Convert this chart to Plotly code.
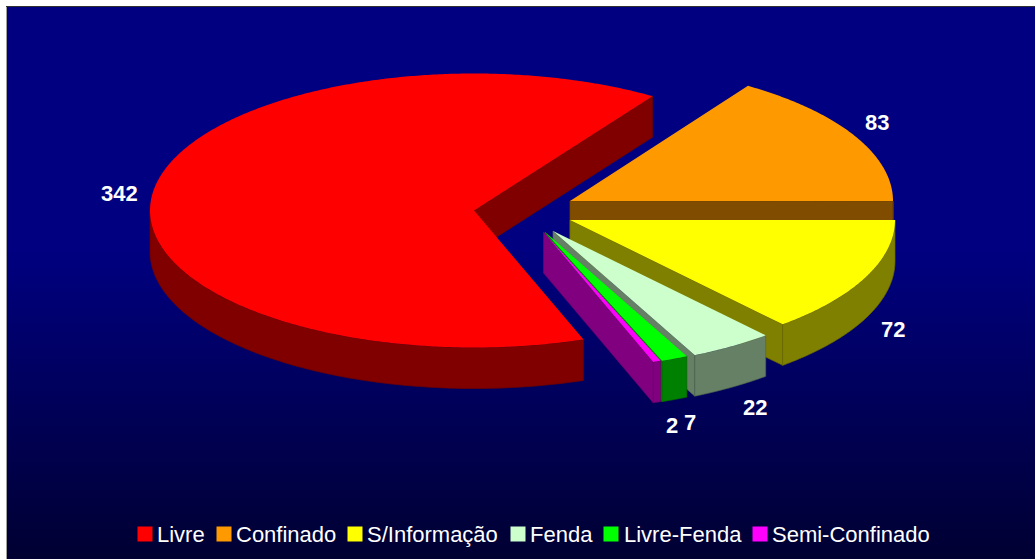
import numpy as np
import plotly.graph_objects as go

W, H = 1035, 559

# ---- data ----
categories = ["Livre", "Confinado", "S/Informação", "Fenda", "Livre-Fenda", "Semi-Confinado"]
values = [342, 83, 72, 22, 7, 2]

# ---- style ----
top_colors = ["#FF0000", "#FF9900", "#FFFF00", "#CCFFCC", "#00FF00", "#FF00FF"]
side_colors = ["#800000", "#804D00", "#808000", "#668066", "#008000", "#800080"]
edge_colors = ["#700000", "#704400", "#6A6A00", "#4F654F", "#006A00", "#6A006A"]
# pixel location of each exploded slice's apex
apex_x = [474, 570, 570, 553, 545, 543.5]
apex_y = [210.5, 201, 220, 231, 232, 232]
radius_x = [324, 323, 325, 325, 325, 325]
radius_y = [137, 138, 138, 138, 138, 138]
DEPTH = 41
label_x = [119, 877, 893, 755, 690, 672]
label_y = [193, 122, 329, 407, 422, 425]
legend_swatch_x = [145, 224, 355, 518, 611, 760]
legend_text_x = [157, 236, 367, 530, 624, 772]
LEGEND_Y = 534
START_DEG = -70.26  # first slice starts here, and runs clockwise for its share of the whole

# gradient background: (pixel y, blue channel)
bg_y = [7, 250, 559]
bg_blue = [128, 128, 50]

fig = go.Figure()

# background gradient as a heatmap
edges = np.arange(7, H + 1, 1.0)
mids = (edges[:-1] + edges[1:]) / 2
blue = np.interp(mids, bg_y, bg_blue)
fig.add_trace(go.Heatmap(
    x=[7, W], y=edges, z=[[b] for b in blue], zmin=0, zmax=255,
    colorscale=[[0, "rgb(0,0,0)"], [1, "rgb(0,0,255)"]],
    showscale=False, hoverinfo="skip"))


def poly(px, py, fill, line=None, name=""):
    fig.add_trace(go.Scatter(
        x=px, y=py, mode="lines", fill="toself", fillcolor=fill,
        line=dict(color=line or fill, width=0.7 if line else 0, simplify=False),
        showlegend=False, name=name, hoverinfo="skip"))


total = sum(values)
ang = START_DEG
for i, (cat, v) in enumerate(zip(categories, values)):
    a0 = ang
    a1 = ang - 360 * v / total
    ang = a1
    if a0 < -180:  # keep the slice's angles in the -180..180 turn
        a0, a1 = a0 + 360, a1 + 360
    cx, cy, rx, ry = apex_x[i], apex_y[i], radius_x[i], radius_y[i]
    pt = lambda a: (cx + rx * np.cos(np.radians(a)), cy - ry * np.sin(np.radians(a)))
    side, edge = side_colors[i], edge_colors[i]
    # radial walls: show the one whose outward normal points to the viewer
    for a, normal in ((a0, a0 + 90), (a1, a1 - 90)):
        if np.sin(np.radians(normal)) < 0:
            ex, ey = pt(a)
            poly([cx, ex, ex, cx, cx], [cy, ey, ey + DEPTH, cy + DEPTH, cy], side, edge, cat)
    # outer rim: only the front half of the ellipse shows
    lo, hi = max(a1, -180), min(a0, 0)
    if hi > lo:
        t = np.linspace(hi, lo, 120)
        rim_x, rim_y = pt(t)
        poly(np.r_[rim_x, rim_x[::-1], rim_x[0]], np.r_[rim_y, rim_y[::-1] + DEPTH, rim_y[0]], side, edge, cat)
    # top face
    t = np.linspace(a0, a1, max(8, int(abs(a0 - a1) * 2)))
    tx, ty = pt(t)
    poly(np.r_[cx, tx, cx], np.r_[cy, ty, cy], top_colors[i], None, cat)

    # data label
    fig.add_annotation(x=label_x[i], y=label_y[i], text=f"<b>{v}</b>", showarrow=False,
                       font=dict(family="Liberation Sans", size=22, color="white"),
                       xanchor="center", yanchor="middle")
    # legend
    fig.add_trace(go.Scatter(
        x=[legend_swatch_x[i]], y=[LEGEND_Y], mode="markers", name=cat,
        marker=dict(symbol="square", size=15, color=top_colors[i]),
        showlegend=False, hoverinfo="name"))
    fig.add_annotation(x=legend_text_x[i], y=LEGEND_Y, text=cat, showarrow=False,
                       font=dict(family="Liberation Sans", size=22, color="white"),
                       xanchor="left", yanchor="middle", xshift=-2)

# grey hairlines along the left and top of the panel
fig.add_shape(type="line", x0=6.5, x1=6.5, y0=7, y1=H, line=dict(color="#A0A0A0", width=1))
fig.add_shape(type="line", x0=6, x1=W, y0=6.5, y1=6.5, line=dict(color="#303030", width=1))

fig.update_layout(
    width=W, height=H, margin=dict(l=0, r=0, t=0, b=0),
    paper_bgcolor="white", plot_bgcolor="white", showlegend=False,
    xaxis=dict(range=[0, W], visible=False, fixedrange=True),
    yaxis=dict(range=[H, 0], visible=False, fixedrange=True))
fig.write_html("out.html", config={"displayModeBar": False},
               post_script="document.body.style.margin='0';document.body.style.overflow='hidden';")
